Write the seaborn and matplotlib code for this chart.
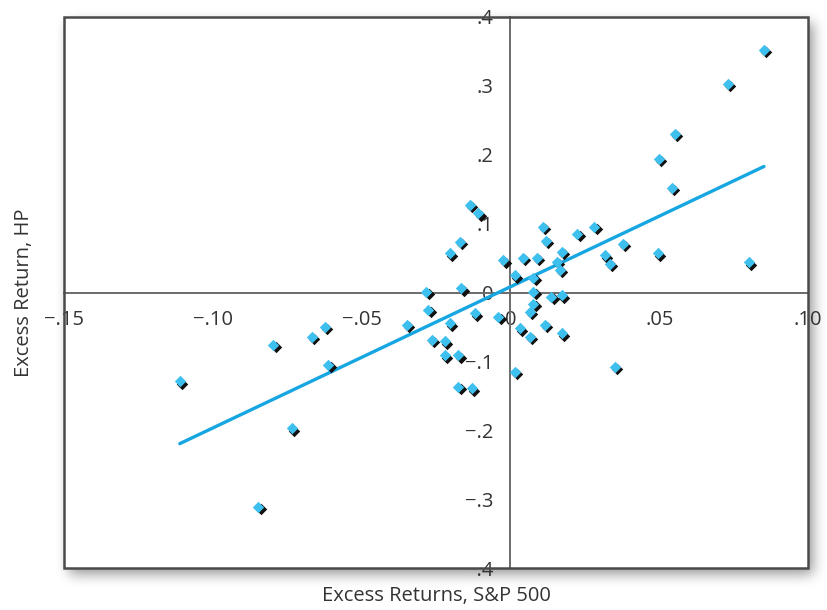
import numpy as np
import pandas as pd
import matplotlib
matplotlib.use("Agg")
import matplotlib.pyplot as plt
from matplotlib.patches import Rectangle
from matplotlib.transforms import ScaledTranslation
import seaborn as sns

# Monthly excess returns: S&P 500 (market) vs. HP
sp500_excess = [
    0.0852, 0.0731, 0.0553, 0.0499, 0.0543, 0.0496, 0.0801, 0.0225, 0.0282, 0.0377,
    0.0318, 0.0334, 0.0108, 0.0119, 0.0172, 0.0155, 0.0166, 0.0041, 0.0088, -0.0024,
    0.0015, 0.0077, 0.0077, 0.0138, 0.0172, 0.0077, 0.0066, 0.0032, 0.0066, 0.0116,
    0.0172, 0.0015, 0.0351, -0.0136, -0.0108, -0.0170, -0.0203, -0.0282, -0.0165, -0.0276,
    -0.0349, -0.0203, -0.0119, -0.0041, -0.0265, -0.0220, -0.0220, -0.0175, -0.0175, -0.0130,
    -0.0623, -0.0668, -0.0797, -0.0612, -0.1111, -0.0735, -0.0847,
]
hp_excess = [
    0.352, 0.303, 0.230, 0.194, 0.152, 0.057, 0.044, 0.085, 0.095, 0.071,
    0.054, 0.042, 0.095, 0.075, 0.059, 0.045, 0.033, 0.050, 0.050, 0.047,
    0.025, 0.021, 0.001, -0.006, -0.004, -0.016, -0.028, -0.052, -0.064, -0.047,
    -0.059, -0.115, -0.108, 0.127, 0.115, 0.074, 0.057, 0.001, 0.006, -0.025,
    -0.047, -0.045, -0.030, -0.035, -0.069, -0.071, -0.091, -0.091, -0.137, -0.139,
    -0.050, -0.064, -0.076, -0.105, -0.129, -0.197, -0.311,
]

# Estimated security characteristic line: HP = alpha + beta * S&P
fit_alpha = 0.0083
fit_beta = 2.05

x_ticks = [-0.15, -0.10, -0.05, 0.0, 0.05, 0.10]
x_tick_labels = ["\u2212.15", "\u2212.10", "\u2212.05", "0", ".05", ".10"]
y_ticks = [-0.4, -0.3, -0.2, -0.1, 0.0, 0.1, 0.2, 0.3, 0.4]
y_tick_labels = ["\u2212.4", "\u2212.3", "\u2212.2", "\u2212.1", "0", ".1", ".2", ".3", ".4"]

x_label = "Excess Returns, S&P 500"
y_label = "Excess Return, HP"

points = pd.DataFrame({"sp500": sp500_excess, "hp": hp_excess})
x_span = np.array([min(sp500_excess), max(sp500_excess)])
fit_line = pd.DataFrame({"sp500": x_span, "hp": fit_alpha + fit_beta * x_span})

sns.set_theme(style="white")
plt.rcParams["font.family"] = ["Open Sans", "DejaVu Sans"]

W, H, DPI = 827, 610, 100
fig = plt.figure(figsize=(W / DPI, H / DPI), dpi=DPI)
fig.patch.set_facecolor("white")

# plot box in pixels (from the top-left corner)
bx0, bx1, by0, by1 = 64, 808, 17, 568
ax = fig.add_axes([bx0 / W, 1 - by1 / H, (bx1 - bx0) / W, (by1 - by0) / H])
ax.set_xlim(-0.15, 0.10)
ax.set_ylim(-0.4, 0.4)

text_color = "#333333"
axis_color = "#6a6a6a"
marker_color = "#3ec0ef"
line_color = "#16a6e1"

# soft drop shadow behind the plot box
shadow = np.zeros((H, W))
off_x, off_y = 5, 6
shadow[by0 + off_y:by1 + off_y, bx0 + off_x:bx1 + off_x] = 1.0
sigma = 6.5
k = np.arange(-3 * int(sigma), 3 * int(sigma) + 1)
kernel = np.exp(-0.5 * (k / sigma) ** 2)
kernel /= kernel.sum()
shadow = np.apply_along_axis(lambda r: np.convolve(r, kernel, mode="same"), 1, shadow)
shadow = np.apply_along_axis(lambda c: np.convolve(c, kernel, mode="same"), 0, shadow)
rgba = np.zeros((H, W, 4))
rgba[..., 3] = shadow * 0.42
img = fig.figimage(rgba, 0, 0, origin="upper")
img.set_zorder(-1)

# regression line
sns.lineplot(data=fit_line, x="sp500", y="hp", ax=ax, color=line_color,
             linewidth=2.4, zorder=3, legend=False)

# diamond markers with a dark offset shadow
marker_size = 34
sns.scatterplot(data=points, x="sp500", y="hp", ax=ax, marker="D",
                s=marker_size, color="#111111", linewidth=0, zorder=4, legend=False)
coll = ax.collections[-1]
coll.set_offset_transform(ax.transData + ScaledTranslation(0.024, -0.024, fig.dpi_scale_trans))
sns.scatterplot(data=points, x="sp500", y="hp", ax=ax, marker="D",
                s=marker_size, color=marker_color, linewidth=0, zorder=5, legend=False)

# axes crossing at the origin
for side in ("top", "right"):
    ax.spines[side].set_visible(False)
ax.spines["left"].set_position(("data", 0))
ax.spines["bottom"].set_position(("data", 0))
for side in ("left", "bottom"):
    ax.spines[side].set_color(axis_color)
    ax.spines[side].set_linewidth(1.4)
    ax.spines[side].set_zorder(2.5)

ax.set_xticks(x_ticks)
ax.set_xticklabels(x_tick_labels)
ax.set_yticks(y_ticks)
ax.set_yticklabels(y_tick_labels)
ax.tick_params(axis="both", direction="out", length=6.5, width=1.1, color=axis_color,
               labelsize=14.5, labelcolor=text_color, pad=5.5)
ax.tick_params(axis="x", pad=6)

# outer frame
ax.add_patch(Rectangle((0, 0), 1, 1, transform=ax.transAxes, fill=False,
                       edgecolor="#4a4a4a", linewidth=1.8, clip_on=False, zorder=6))

ax.set_xlabel(x_label, fontsize=14.5, color=text_color)
ax.xaxis.set_label_coords(0.50, -0.033)
ax.xaxis.label.set_va("top")
ax.set_ylabel(y_label, fontsize=14.5, color=text_color)
ax.yaxis.set_label_coords(-0.054, 0.50)
ax.yaxis.label.set_va("center")

fig.savefig("out.png", dpi=DPI, facecolor="white")
